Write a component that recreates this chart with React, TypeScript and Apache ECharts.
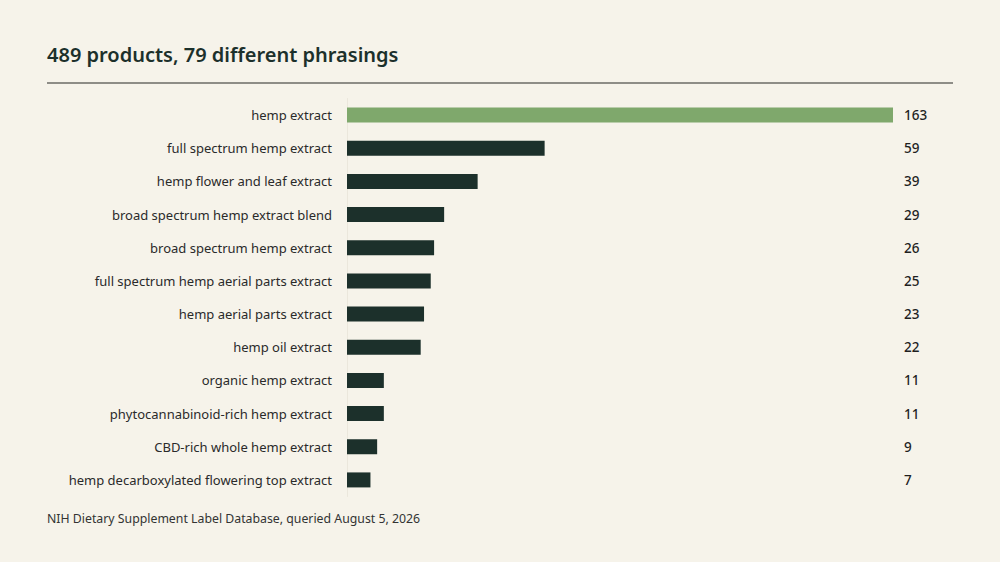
import React, { useEffect, useRef } from "react";
import * as echarts from "echarts";

const TITLE = "489 products, 79 different phrasings";
const SOURCE = "NIH Dietary Supplement Label Database, queried August 5, 2026";

const categories = [
  "hemp extract",
  "full spectrum hemp extract",
  "hemp flower and leaf extract",
  "broad spectrum hemp extract blend",
  "broad spectrum hemp extract",
  "full spectrum hemp aerial parts extract",
  "hemp aerial parts extract",
  "hemp oil extract",
  "organic hemp extract",
  "phytocannabinoid-rich hemp extract",
  "CBD-rich whole hemp extract",
  "hemp decarboxylated flowering top extract",
];
const counts = [163, 59, 39, 29, 26, 25, 23, 22, 11, 11, 9, 7];
const highlightIndex = 0;

const BG = "#f6f3ea";
const DARK = "#1c302b";
const GREEN = "#7fa86c";
const FONT = "'Noto Sans', 'Open Sans', sans-serif";

export default function App() {
  const ref = useRef<HTMLDivElement>(null);
  useEffect(() => {
    document.body.style.margin = "0";
    document.body.style.background = BG;
    if (!ref.current) return;
    const chart = echarts.init(ref.current, null, { renderer: "svg" });
    chart.setOption({
      animation: false,
      backgroundColor: BG,
      textStyle: { fontFamily: FONT },
      title: {
        text: TITLE,
        left: 42,
        top: 39,
        textStyle: { fontFamily: FONT, fontSize: 20, fontWeight: 600, color: DARK },
      },
      graphic: [
        {
          type: "line",
          shape: { x1: 47, y1: 83, x2: 953, y2: 83 },
          style: { stroke: "#6b6b66", lineWidth: 1.6 },
        },
        {
          type: "text",
          left: 47,
          top: 512,
          style: { text: SOURCE, fontFamily: FONT, fontSize: 12.3, fill: "#333333" },
        },
      ],
      grid: { left: 347, right: 107, top: 98.5, bottom: 65.5 },
      xAxis: {
        type: "value",
        min: 0,
        max: 163,
        show: false,
      },
      yAxis: [
        {
          type: "category",
          data: categories,
          inverse: true,
          axisLine: { show: true, lineStyle: { color: "#ebe7dc", width: 1 } },
          axisTick: { show: false },
          axisLabel: { margin: 15, color: "#2a2a2a", fontSize: 13, fontFamily: FONT },
        },
        {
          type: "category",
          data: counts.map(String),
          inverse: true,
          position: "right",
          axisLine: { show: false },
          axisTick: { show: false },
          axisLabel: {
            margin: 11,
            color: "#1f1f1f",
            fontSize: 13.5,
            fontWeight: 500,
            fontFamily: FONT,
            align: "left",
          },
        },
      ],
      series: [
        {
          type: "bar",
          yAxisIndex: 0,
          barWidth: 15,
          data: counts.map((v, i) => ({
            value: v,
            itemStyle: { color: i === highlightIndex ? GREEN : DARK },
          })),
        },
      ],
    });
    return () => chart.dispose();
  }, []);
  return (
    <div
      ref={ref}
      style={{ width: 1000, height: 562, position: "fixed", left: 0, top: 0 }}
    />
  );
}
